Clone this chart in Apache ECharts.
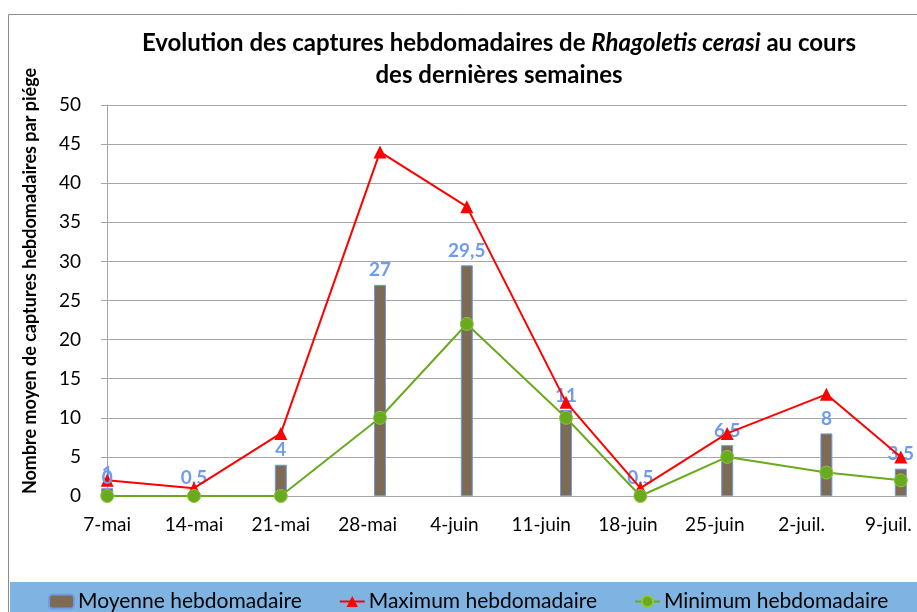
<!DOCTYPE html>
<html>
<head>
<meta charset="utf-8">
<script src="https://cdn.jsdelivr.net/npm/echarts@6/dist/echarts.min.js"></script>
<style>
	html,body{margin:0;padding:0;background:#fff;}
	#chart{width:917px;height:612px;}
</style>
</head>
<body>
<div id="chart"></div>
<script>
// axe des dates : graduations hebdomadaires, relevés à leur date réelle
var weeks = ['7-mai','14-mai','21-mai','28-mai','4-juin','11-juin','18-juin','25-juin','2-juil.','9-juil.'];
var releves = ['2018-05-07','2018-05-14','2018-05-21','2018-05-29','2018-06-05','2018-06-13','2018-06-19','2018-06-26','2018-07-04','2018-07-10'];
var moyenne = [1, 0.5, 4, 27, 29.5, 11, 0.5, 6.5, 8, 3.5];
var maximum = [2, 1, 8, 44, 37, 12, 1, 8, 13, 5];
var minimum = [0, 0, 0, 10, 22, 10, 0, 5, 3, 2];
var yTicks = [0, 5, 10, 15, 20, 25, 30, 35, 40, 45, 50];

var FONT = 'Lato';
var LABEL_BLUE = '#6f9bf0';
var DAY = 86400000;
var start = Date.parse(releves[0]);

// jour depuis le 7 mai
function jour(d){
	return Math.round((Date.parse(d) - start) / DAY);
}
function pairs(arr){
	var out = [];
	for (var i = 0; i < arr.length; i++) out.push([jour(releves[i]), arr[i]]);
	return out;
}
function frNum(v){
	return String(v).replace('.', ',');
}

var weekTicks = [];
for (var w = 0; w < weeks.length; w++) weekTicks.push(w * 7);

var minData = pairs(minimum);
// le "0" bleu affiché sur le premier point
minData[0] = {value: minData[0], label: {show: true, position: 'top', distance: 2,
	color: LABEL_BLUE, fontWeight: 'bold', fontSize: 19, fontFamily: FONT,
	formatter: function(p){ return frNum(p.value[1]); }}};

var option = {
	animation: false,
	backgroundColor: '#fff',
	textStyle: {fontFamily: FONT},
	title: {
		left: 494,
		top: 22,
		textAlign: 'center',
		text: '{b|Evolution des captures hebdomadaires de }{i|Rhagoletis cerasi}{b| au cours}\n{b|des dernières semaines}',
		textStyle: {
			rich: {
				b: {fontFamily: FONT, fontWeight: 'bold', fontSize: 24, color: '#000', lineHeight: 32},
				i: {fontFamily: FONT, fontWeight: 'bold', fontStyle: 'italic', fontSize: 24, color: '#000', lineHeight: 32}
			}
		}
	},
	legend: {
		left: 48,
		top: 591,
		padding: 0,
		itemGap: 37,
		itemWidth: 25,
		itemHeight: 14,
		textStyle: {fontFamily: FONT, fontSize: 21, color: '#000', padding: [0,0,0,-1]},
		data: ['Moyenne hebdomadaire', 'Maximum hebdomadaire', 'Minimum hebdomadaire']
	},
	graphic: [
		{type: 'rect', shape: {x: 8.5, y: 14.5, width: 930, height: 620}, style: {fill: 'none', stroke: '#8c8c8c', lineWidth: 1}, z: -10},
		{type: 'rect', shape: {x: 10, y: 582, width: 910, height: 40}, style: {fill: '#7fb4e2'}, z: -5},
		{type: 'text', x: 30, y: 281, rotation: Math.PI / 2,
			style: {text: 'Nombre moyen de captures hebdomadaires par piége', fontFamily: FONT, fontWeight: 'bold',
				fontSize: 18, fill: '#000', align: 'center', verticalAlign: 'middle'}}
	],
	grid: {left: 101, right: 10, top: 105, bottom: 116},
	xAxis: {
		type: 'value',
		min: -0.5,
		max: 64.5,
		axisLine: {show: false},
		axisTick: {show: false},
		splitLine: {show: false},
		axisLabel: {
			customValues: weekTicks,
			fontFamily: FONT, fontSize: 19, color: '#000', margin: 19,
			formatter: function(v){ return weeks[Math.round(v / 7)]; }
		}
	},
	yAxis: {
		type: 'value',
		min: 0,
		max: 50,
		interval: 5,
		axisLine: {show: true, lineStyle: {color: '#a6a6a6'}},
		axisTick: {show: true, length: 6, lineStyle: {color: '#a6a6a6'}},
		splitLine: {lineStyle: {color: '#a6a6a6'}},
		axisLabel: {fontFamily: FONT, fontSize: 19, color: '#000', margin: 20,
			formatter: function(v){ return yTicks.indexOf(v) >= 0 ? String(v) : ''; }}
	},
	series: [
		{
			name: 'Moyenne hebdomadaire',
			type: 'bar',
			barWidth: 12,
			data: pairs(moyenne),
			itemStyle: {color: '#7e6b54', borderColor: '#7099e6', borderWidth: 1},
			label: {show: true, position: 'top', distance: 5, color: LABEL_BLUE, fontWeight: 'bold',
				fontSize: 19, fontFamily: FONT,
				formatter: function(p){ return frNum(p.value[1]); }},
			z: 1
		},
		{
			name: 'Maximum hebdomadaire',
			type: 'line',
			data: pairs(maximum),
			symbol: 'triangle',
			symbolSize: 13,
			lineStyle: {color: '#ff0000', width: 2},
			itemStyle: {color: '#ff0000'},
			z: 3
		},
		{
			name: 'Minimum hebdomadaire',
			type: 'line',
			data: minData,
			symbol: 'circle',
			symbolSize: 13,
			lineStyle: {color: '#6aaa1f', width: 2},
			itemStyle: {color: '#6aaa1f', borderColor: '#8cc63f', borderWidth: 1},
			z: 4
		}
	]
};

window.addEventListener('load', function(){
	var chart = echarts.init(document.getElementById('chart'));
	chart.setOption(option);
});
</script>
</body>
</html>
